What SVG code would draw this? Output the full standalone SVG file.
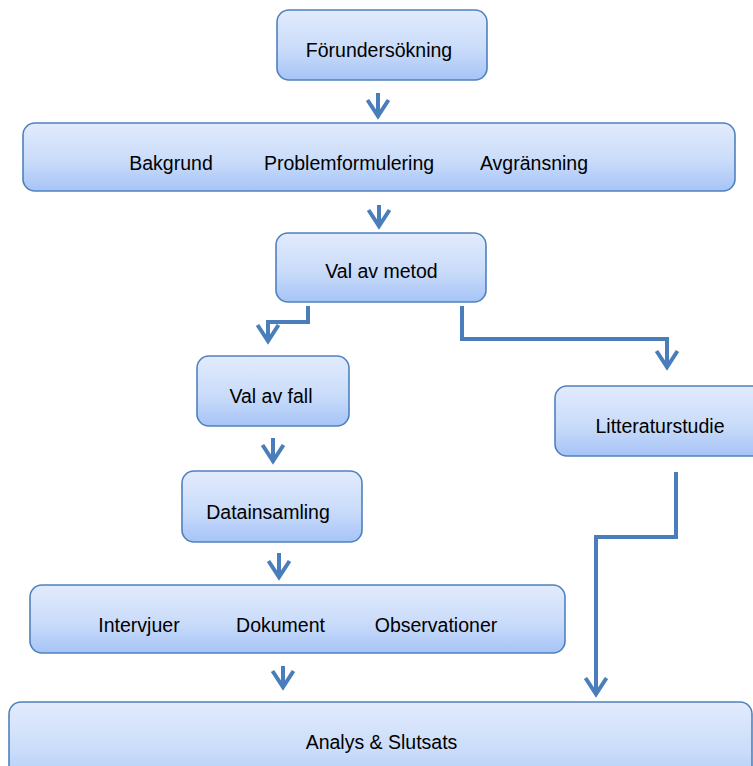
<svg xmlns="http://www.w3.org/2000/svg" width="753" height="766" viewBox="0 0 753 766">
<defs>
<linearGradient id="g" x1="0" y1="0" x2="0" y2="1">
<stop offset="0" stop-color="#e2ebfc"/>
<stop offset="0.55" stop-color="#cadcfa"/>
<stop offset="1" stop-color="#a6c4f6"/>
</linearGradient>
<marker id="ah" markerUnits="userSpaceOnUse" orient="auto" refX="0" refY="0" markerWidth="30" markerHeight="30" overflow="visible">
<path d="M-17,-10.5 L-1,0 L-17,10.5" fill="none" stroke="#4a7ebb" stroke-width="4" stroke-linejoin="miter"/>
</marker>
</defs>
<style>
.box{fill:url(#g);stroke:#4f81bd;stroke-width:1.6}
.t{font-family:"Liberation Sans",Arial,sans-serif;font-size:19.5px;fill:#000;text-anchor:middle}
.c{fill:none;stroke:#4a7ebb;stroke-width:4;marker-end:url(#ah)}
</style>
<rect width="753" height="766" fill="#fff"/>
<g id="n1"><rect class="box" x="277" y="10" width="210" height="70" rx="12"/><text class="t" x="379" y="57">Förundersökning</text></g>
<g id="n2"><rect class="box" x="23" y="123" width="712" height="68" rx="12"/><text class="t" x="171" y="170">Bakgrund</text><text class="t" x="349" y="170">Problemformulering</text><text class="t" x="534" y="170">Avgränsning</text></g>
<g id="n3"><rect class="box" x="276" y="233" width="210" height="69" rx="12"/><text class="t" x="381.5" y="278">Val av metod</text></g>
<g id="n4"><rect class="box" x="197" y="356" width="152" height="70" rx="12"/><text class="t" x="271" y="403">Val av fall</text></g>
<g id="n5"><rect class="box" x="555" y="386" width="215" height="70" rx="12"/><text class="t" x="660" y="433">Litteraturstudie</text></g>
<g id="n6"><rect class="box" x="182" y="471" width="180" height="71" rx="12"/><text class="t" x="268" y="519">Datainsamling</text></g>
<g id="n7"><rect class="box" x="30" y="585" width="535" height="68" rx="12"/><text class="t" x="139" y="632">Intervjuer</text><text class="t" x="280.5" y="632">Dokument</text><text class="t" x="436" y="632">Observationer</text></g>
<g id="n8"><rect class="box" x="9" y="702" width="743" height="90" rx="12"/><text class="t" x="381.5" y="749">Analys &amp; Slutsats</text></g>
<g id="connectors">
<path class="c" d="M378,93 L378,117"/>
<path class="c" d="M379,205 L379,227"/>
<path class="c" d="M308,306 L308,322 L268,322 L268,342"/>
<path class="c" d="M462,306 L462,339 L667,339 L667,368"/>
<path class="c" d="M273,438 L273,462"/>
<path class="c" d="M279,553 L279,578"/>
<path class="c" d="M283,666 L283,688"/>
<path class="c" d="M676,472 L676,537 L596,537 L596,695"/>
</g>
</svg>
